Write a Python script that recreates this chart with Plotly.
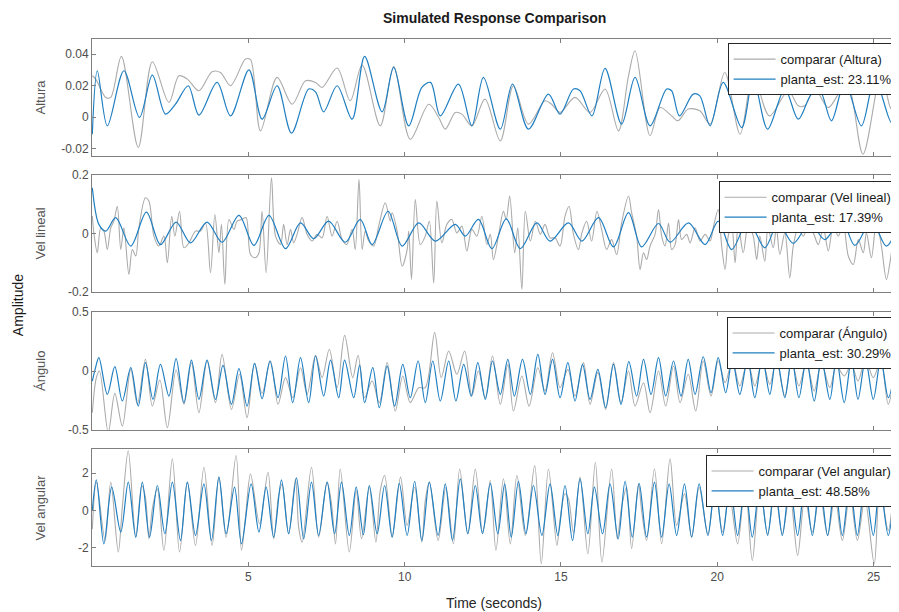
import plotly.graph_objects as go

# ---------------- data (time [s], value) ----------------
TIME_TICKS = [5, 10, 15, 20, 25]
TIME_RANGE = [0.0, 25.78]

PANEL_NAMES = ["Altura", "Vel lineal", "Ángulo", "Vel angular"]
FIT_LABELS = ["23.11%", "17.39%", "30.29%", "48.58%"]

ALT_TICKS = [-0.02, 0, 0.02, 0.04]
ALT_TICKTEXT = ["-0.02", "0", "0.02", "0.04"]
LIN_TICKS = [-0.2, 0, 0.2]
LIN_TICKTEXT = ["-0.2", "0", "0.2"]
ANG_TICKS = [-0.5, 0, 0.5]
ANG_TICKTEXT = ["-0.5", "0", "0.5"]
VEL_TICKS = [-2, 0, 2]
VEL_TICKTEXT = ["-2", "0", "2"]

ALT_EST = [(0.01,-0.0108),(0.17,0.0294),(0.49,-0.0055),(1.02,0.0294),(1.52,-0.0002),(1.93,0.0266),(2.35,0.0019),(2.67,0.0082),(3.08,0.0199),(3.42,0.0013),(4.00,0.0220),(4.43,0.0008),(5.02,0.0300),(5.44,-0.0013),(5.92,0.0199),(6.38,-0.0101),(6.93,0.0178),(7.15,0.0160),(7.41,0.0034),(7.84,0.0199),(8.32,-0.0013),(8.72,0.0385),(9.28,0.0034),(9.65,0.0315),(10.13,-0.0055),(10.55,0.0188),(10.83,0.0220),(11.14,0.0008),(11.72,0.0209),(12.15,-0.0055),(12.52,0.0252),(13.06,-0.0076),(13.45,0.0209),(13.96,-0.0076),(14.60,0.0146),(14.97,0.0019),(15.40,0.0178),(15.61,0.0167),(15.99,0.0008),(16.41,0.0309),(16.94,-0.0044),(17.37,0.0252),(17.85,-0.0055),(18.38,0.0178),(18.54,0.0167),(18.79,0.0008),(19.23,0.0146),(19.44,0.0135),(19.77,-0.0055),(20.19,0.0220),(20.78,-0.0066),(21.15,0.0241),(21.61,-0.0076),(22.16,0.0178),(22.59,-0.0013),(23.01,0.0146),(23.28,0.0167),(23.65,-0.0023),(24.08,0.0220),(24.61,-0.0055),(25.04,0.0241),(25.57,-0.0034),(25.78,0.0100)]

ALT_CMP = [(0.01,0.0262),(0.12,0.0241),(0.44,0.0125),(0.60,0.0125),(0.94,0.0385),(1.48,-0.0192),(1.93,0.0351),(2.46,0.0093),(2.78,0.0262),(3.05,0.0241),(3.42,0.0167),(3.84,0.0288),(4.11,0.0283),(4.43,0.0199),(4.91,0.0368),(5.07,0.0364),(5.39,-0.0087),(5.92,0.0252),(6.40,0.0082),(6.83,0.0230),(7.15,0.0220),(7.36,0.0188),(7.84,0.0311),(8.26,0.0104),(8.64,0.0330),(9.22,-0.0055),(9.65,0.0321),(10.18,-0.0140),(10.77,0.0082),(11.09,-0.0002),(11.30,-0.0076),(11.62,0.0030),(11.83,0.0019),(12.15,-0.0055),(12.57,0.0114),(13.06,-0.0150),(13.48,0.0199),(13.96,-0.0044),(14.49,0.0104),(14.70,0.0082),(14.97,0.0030),(15.45,0.0125),(15.93,0.0030),(16.41,0.0178),(16.84,-0.0087),(17.16,0.0262),(17.37,0.0421),(17.85,-0.0118),(18.17,0.0061),(18.54,0.0008),(18.74,-0.0023),(19.07,0.0051),(19.44,0.0040),(19.77,-0.0044),(20.24,0.0283),(20.73,-0.0108),(21.15,0.0262),(21.67,0.0008),(22.27,0.0167),(22.59,0.0072),(22.80,0.0072),(23.12,0.0178),(23.55,0.0061),(23.98,0.0178),(24.19,0.0199),(24.66,-0.0235),(25.25,0.0280),(25.57,0.0051),(25.78,0.0072)]

LIN_EST = [(0.01,0.156),(0.22,0.031),(0.44,0.008),(0.76,0.054),(1.24,-0.043),(1.74,0.073),(2.19,-0.038),(2.69,0.039),(3.15,-0.032),(3.68,0.039),(4.16,-0.030),(4.70,0.062),(5.18,-0.041),(5.66,0.062),(6.19,-0.052),(6.67,0.036),(7.09,-0.018),(7.57,0.042),(8.10,-0.030),(8.58,0.048),(8.96,-0.038),(9.47,0.076),(9.92,-0.043),(10.45,0.036),(10.98,-0.026),(11.62,0.031),(11.94,-0.009),(12.36,0.048),(12.79,-0.052),(13.25,0.050),(13.70,-0.052),(14.23,0.036),(14.65,-0.026),(15.24,0.036),(15.67,-0.026),(16.20,0.054),(16.68,-0.046),(17.16,0.071),(17.58,-0.046),(18.12,0.034),(18.49,-0.030),(19.08,0.036),(19.61,-0.038),(20.03,0.042),(20.46,-0.055),(20.99,0.042),(21.52,-0.049),(21.95,0.036),(22.43,-0.034),(22.96,0.036),(23.44,-0.021),(23.97,0.048),(24.40,-0.041),(24.93,0.042),(25.41,-0.043),(25.78,0.027)]

LIN_CMP = [(0.01,0.06),(0.06,0.002),(0.17,-0.066),(0.28,0.019),(0.38,0.008),(0.49,-0.055),(0.60,0.019),(0.70,0.042),(0.81,0.093),(0.92,-0.055),(1.02,0.019),(1.18,-0.140),(1.29,-0.055),(1.40,-0.077),(1.50,0.019),(1.71,0.122),(1.82,0.111),(1.98,-0.009),(2.14,-0.043),(2.30,-0.009),(2.41,-0.100),(2.55,0.059),(2.65,-0.009),(2.80,0.076),(2.94,-0.049),(3.10,-0.032),(3.31,0.008),(3.47,0.008),(3.63,0.036),(3.79,-0.134),(3.93,0.065),(4.06,-0.066),(4.14,0.031),(4.25,-0.174),(4.38,0.048),(4.54,0.014),(4.64,0.042),(4.80,0.048),(4.93,0.054),(5.07,-0.072),(5.23,-0.083),(5.34,-0.066),(5.44,0.076),(5.57,-0.134),(5.74,0.190),(5.87,-0.009),(6.03,-0.038),(6.13,0.031),(6.24,-0.038),(6.35,0.014),(6.45,-0.032),(6.56,-0.003),(6.72,0.054),(6.88,-0.003),(7.04,-0.026),(7.20,-0.003),(7.36,-0.015),(7.52,0.059),(7.68,-0.009),(7.84,0.042),(8.00,-0.021),(8.15,-0.038),(8.32,0.014),(8.42,-0.055),(8.54,0.185),(8.64,-0.055),(8.74,0.008),(8.85,-0.026),(9.01,-0.043),(9.17,0.025),(9.38,0.105),(9.54,0.042),(9.60,0.071),(9.76,0.008),(9.92,-0.112),(10.08,-0.055),(10.13,0.008),(10.22,-0.157),(10.34,0.116),(10.50,-0.038),(10.66,-0.009),(10.79,0.042),(10.93,-0.169),(11.03,0.111),(11.19,-0.032),(11.35,0.031),(11.51,0.048),(11.67,0.002),(11.83,0.025),(11.99,-0.060),(12.15,0.014),(12.31,-0.009),(12.47,0.059),(12.63,-0.038),(12.74,-0.003),(12.84,-0.089),(13.00,-0.009),(13.16,0.076),(13.25,0.048),(13.36,0.128),(13.52,-0.066),(13.62,0.019),(13.75,-0.191),(13.86,0.076),(14.02,-0.026),(14.18,0.042),(14.34,-0.003),(14.49,0.031),(14.65,-0.015),(14.81,-0.015),(14.97,-0.043),(15.13,0.059),(15.26,0.093),(15.40,-0.003),(15.56,-0.055),(15.67,0.002),(15.82,0.042),(15.98,-0.026),(16.15,0.076),(16.30,0.014),(16.46,-0.055),(16.62,-0.021),(16.78,-0.072),(16.94,0.036),(17.16,0.128),(17.26,0.071),(17.42,-0.009),(17.53,-0.123),(17.64,-0.066),(17.74,-0.089),(17.85,-0.043),(18.01,-0.003),(18.12,0.082),(18.22,-0.009),(18.33,-0.043),(18.44,0.036),(18.54,-0.055),(18.65,-0.038),(18.76,0.048),(18.86,-0.021),(19.02,-0.003),(19.13,-0.032),(19.29,0.019),(19.45,-0.026),(19.61,-0.003),(19.77,-0.026),(19.88,0.025),(20.03,0.082),(20.14,-0.043),(20.25,-0.123),(20.35,-0.009),(20.46,0.031),(20.57,-0.100),(20.67,0.031),(20.83,-0.066),(20.99,0.031),(21.15,-0.009),(21.26,-0.089),(21.36,-0.009),(21.52,-0.095),(21.62,0.019),(21.79,-0.049),(21.89,0.019),(22.00,-0.072),(22.16,0.002),(22.32,-0.152),(22.43,-0.043),(22.59,0.019),(22.75,-0.009),(22.91,0.025),(23.07,0.002),(23.23,-0.038),(23.39,0.019),(23.55,-0.060),(23.71,0.025),(23.87,-0.009),(24.03,0.031),(24.19,-0.077),(24.35,-0.106),(24.51,-0.021),(24.67,-0.066),(24.77,0.002),(24.93,-0.083),(25.09,0.042),(25.25,-0.043),(25.41,-0.157),(25.57,-0.066),(25.68,0.014),(25.78,0.048)]

ANG_EST = [(0.01,-0.085),(0.10,0.014),(0.22,0.113),(0.49,-0.198),(0.73,0.037),(0.97,-0.254),(1.24,0.028),(1.48,-0.297),(1.71,0.071),(1.95,-0.240),(2.19,0.056),(2.46,-0.212),(2.69,0.105),(2.94,-0.268),(3.18,0.093),(3.42,-0.240),(3.68,0.093),(3.95,-0.240),(4.19,0.048),(4.46,-0.282),(4.70,0.020),(4.96,-0.297),(5.20,0.065),(5.44,-0.234),(5.69,0.085),(5.95,-0.226),(6.19,0.127),(6.42,-0.268),(6.67,0.113),(6.93,-0.268),(7.15,0.127),(7.41,-0.212),(7.63,0.093),(7.89,-0.226),(8.08,0.093),(8.37,-0.226),(8.56,0.050),(8.72,-0.268),(8.98,0.028),(9.19,-0.311),(9.44,0.042),(9.68,-0.297),(9.94,0.056),(10.18,-0.226),(10.43,0.085),(10.66,-0.268),(10.90,0.085),(11.14,-0.254),(11.41,0.085),(11.64,-0.254),(11.89,0.056),(12.13,-0.212),(12.34,0.071),(12.58,-0.240),(12.81,0.085),(13.06,-0.198),(13.30,0.099),(13.51,-0.212),(13.77,0.099),(14.02,-0.198),(14.26,0.141),(14.49,-0.198),(14.73,0.099),(14.97,-0.226),(15.22,0.071),(15.45,-0.254),(15.69,0.056),(15.93,-0.240),(16.18,0.014),(16.43,-0.311),(16.68,0.056),(16.92,-0.282),(17.17,0.080),(17.42,-0.212),(17.64,0.099),(17.88,-0.198),(18.12,0.113),(18.35,-0.212),(18.60,0.085),(18.84,-0.212),(19.07,0.099),(19.29,-0.198),(19.55,0.121),(19.80,-0.184),(20.03,0.113),(20.27,-0.184),(20.48,0.099),(20.72,-0.198),(20.97,0.099),(21.20,-0.226),(21.44,0.113),(21.68,-0.198),(21.89,0.127),(22.16,-0.226),(22.38,0.113),(22.61,-0.226),(22.85,0.099),(23.10,-0.254),(23.33,0.099),(23.60,-0.240),(23.81,0.105),(24.06,-0.268),(24.29,0.099),(24.50,-0.240),(24.74,0.099),(24.99,-0.240),(25.23,0.099),(25.47,-0.226),(25.73,0.099)]

ANG_CMP = [(0.01,-0.353),(0.14,-0.056),(0.24,0.0),(0.52,-0.52),(0.73,-0.189),(0.97,-0.466),(1.24,0.014),(1.45,-0.282),(1.71,0.099),(1.93,-0.297),(2.17,-0.076),(2.41,-0.480),(2.69,0.008),(2.94,-0.282),(3.18,0.071),(3.42,-0.353),(3.68,0.085),(3.95,-0.268),(4.16,0.141),(4.46,-0.325),(4.72,-0.028),(4.96,-0.395),(5.20,0.065),(5.44,-0.189),(5.71,0.085),(5.95,-0.282),(6.19,-0.056),(6.42,-0.226),(6.67,0.028),(6.88,-0.198),(7.15,0.133),(7.36,-0.056),(7.59,0.184),(7.84,-0.141),(8.08,0.302),(8.34,-0.056),(8.51,0.133),(8.72,-0.226),(8.96,-0.085),(9.19,-0.268),(9.44,0.071),(9.70,-0.339),(9.94,-0.042),(10.18,-0.268),(10.45,-0.141),(10.66,-0.141),(10.96,0.325),(11.17,-0.056),(11.41,0.169),(11.67,-0.028),(11.92,0.169),(12.15,-0.212),(12.36,0.0),(12.58,-0.226),(12.81,0.127),(13.06,-0.282),(13.30,0.056),(13.48,-0.339),(13.75,-0.042),(13.98,-0.297),(14.26,0.028),(14.49,-0.169),(14.73,0.155),(14.97,-0.141),(15.22,0.014),(15.45,-0.212),(15.72,0.071),(15.93,-0.282),(16.18,-0.014),(16.43,-0.325),(16.68,0.071),(16.92,-0.268),(17.16,0.0),(17.37,-0.297),(17.64,-0.099),(17.85,-0.353),(18.12,0.0),(18.35,-0.297),(18.60,0.042),(18.81,-0.268),(19.07,-0.028),(19.31,-0.339),(19.55,0.085),(19.80,-0.212),(20.03,0.085),(20.25,-0.099),(20.48,0.085),(20.72,-0.127),(20.97,0.085),(21.20,-0.127),(21.44,0.085),(21.68,-0.113),(21.89,0.085),(22.16,-0.212),(22.38,0.085),(22.61,-0.127),(22.85,0.071),(23.10,-0.169),(23.33,0.071),(23.60,-0.141),(23.81,0.042),(24.06,-0.042),(24.29,0.056),(24.50,-0.085),(24.74,0.099),(24.99,-0.056),(25.23,0.085),(25.47,-0.282),(25.73,0.014),(25.78,-0.071)]

VEL_EST = [(0.01,0.0),(0.14,1.64),(0.38,-1.79),(0.63,1.25),(0.92,-1.16),(1.16,1.52),(1.40,-1.43),(1.61,1.52),(1.84,-1.43),(2.09,1.34),(2.33,-1.25),(2.57,1.52),(2.83,-1.61),(3.05,1.52),(3.31,-1.34),(3.58,1.43),(3.82,-1.61),(4.06,1.79),(4.29,-1.25),(4.56,1.25),(4.78,-1.79),(5.09,1.43),(5.34,-1.16),(5.57,1.25),(5.81,-1.43),(6.06,1.64),(6.29,-1.25),(6.54,1.75),(6.77,-1.52),(7.02,1.52),(7.25,-1.34),(7.52,1.52),(7.76,-1.25),(7.98,1.52),(8.23,-1.34),(8.45,1.25),(8.68,-1.30),(8.87,1.34),(9.12,-1.25),(9.36,1.34),(9.60,-1.43),(9.83,1.46),(10.08,-1.34),(10.32,1.57),(10.55,-1.61),(10.79,1.52),(11.07,-1.34),(11.30,1.43),(11.53,-1.61),(11.78,1.70),(12.02,-1.25),(12.26,1.34),(12.49,-1.25),(12.74,1.46),(12.98,-1.25),(13.20,1.43),(13.41,-1.43),(13.64,1.57),(13.88,-1.25),(14.12,1.34),(14.39,-1.34),(14.65,1.43),(14.90,-1.34),(15.13,1.34),(15.37,-1.61),(15.61,1.70),(15.86,-1.25),(16.07,1.25),(16.33,-1.25),(16.57,1.43),(16.83,-1.52),(17.05,1.57),(17.28,-1.43),(17.50,1.46),(17.74,-1.43),(17.99,1.52),(18.22,-1.43),(18.46,1.43),(18.70,-1.34),(18.95,1.43),(19.18,-1.43),(19.42,1.43),(19.70,-1.34),(19.93,1.43),(20.17,-1.34),(20.41,1.43),(20.65,-1.34),(20.89,1.43),(21.12,-1.43),(21.36,1.43),(21.61,-1.34),(21.84,1.43),(22.08,-1.34),(22.32,1.43),(22.57,-1.34),(22.80,1.43),(23.04,-1.34),(23.28,1.43),(23.53,-1.34),(23.76,1.43),(24.00,-1.34),(24.24,1.43),(24.48,-1.34),(24.72,1.43),(24.99,-1.34),(25.20,1.43),(25.47,-1.34),(25.73,1.46),(25.78,1.20)]

VEL_CMP = [(0.01,-1.0),(0.14,1.52),(0.42,-1.61),(0.60,1.52),(0.84,-2.23),(0.97,0.18),(1.16,3.21),(1.40,-1.43),(1.59,1.34),(1.71,0.71),(1.82,-1.52),(1.93,0.09),(2.09,1.16),(2.30,-2.14),(2.57,2.77),(2.80,-2.23),(3.05,1.52),(3.31,-1.88),(3.58,2.32),(3.84,-1.88),(4.06,1.79),(4.29,-1.43),(4.61,2.95),(4.78,-2.14),(4.91,-0.36),(5.07,1.96),(5.36,-0.71),(5.63,2.05),(5.81,-1.52),(5.97,0.80),(6.08,1.43),(6.29,-1.25),(6.51,1.70),(6.61,-0.89),(6.72,-1.70),(7.02,2.32),(7.25,-1.43),(7.52,1.52),(7.66,0.36),(7.79,-1.79),(7.94,2.23),(8.23,-2.23),(8.45,1.07),(8.62,-1.52),(8.87,1.25),(9.08,-1.70),(9.22,1.07),(9.36,1.88),(9.60,-1.43),(9.68,-0.63),(9.87,1.79),(10.08,-0.80),(10.32,1.25),(10.55,-1.70),(10.66,0.54),(10.79,1.52),(11.07,-1.61),(11.32,1.25),(11.56,-1.79),(11.76,2.23),(12.02,-1.25),(12.26,2.23),(12.49,-1.16),(12.58,-0.54),(12.74,1.61),(12.92,-2.14),(13.16,1.70),(13.38,-1.79),(13.59,1.88),(13.86,-1.34),(14.16,2.41),(14.37,-2.86),(14.60,2.23),(14.87,-1.88),(14.97,-0.50),(15.13,0.90),(15.24,0.63),(15.40,-1.20),(15.61,1.79),(15.86,-2.32),(16.10,2.59),(16.31,-2.77),(16.62,2.23),(16.80,-1.52),(16.94,0.18),(17.10,1.25),(17.26,-2.05),(17.48,1.43),(17.58,0.0),(17.74,-1.61),(17.99,2.23),(18.22,-1.79),(18.49,2.77),(18.70,-0.80),(18.95,0.89),(19.18,-1.43),(19.42,1.25),(19.70,-1.25),(19.93,1.25),(20.17,-1.16),(20.38,0.89),(20.65,-1.79),(20.89,1.43),(21.12,-2.68),(21.36,1.25),(21.61,-1.25),(21.84,1.07),(22.08,-1.25),(22.32,0.89),(22.57,-2.41),(22.80,0.71),(23.04,-1.16),(23.28,0.89),(23.53,-1.34),(23.76,0.71),(24.00,-1.61),(24.24,0.89),(24.48,-1.61),(24.72,0.63),(25.02,-2.86),(25.20,1.25),(25.47,-1.07),(25.68,1.25),(25.78,-0.71)]

# ---------------- styling ----------------
FONT = "Arial, 'Liberation Sans', Helvetica, sans-serif"
GRAY = "#ababab"
BLUE = "#1f7fc1"
AXIS_COL = "#7f7f7f"
TICK_COL = "#4d4d4d"

# page body has an 8 px margin; plot area ends up at x 92..898, y 39..566 (527 px tall)
DOMAINS = [[0.778, 1.0], [0.520, 0.742], [0.258, 0.482], [0.0, 0.222]]
LEGEND_Y = [0.992, 0.730, 0.4725, 0.2106]

panels = [
    (ALT_CMP, ALT_EST, [-0.0246, 0.0495], ALT_TICKS, ALT_TICKTEXT),
    (LIN_CMP, LIN_EST, [-0.2, 0.2], LIN_TICKS, LIN_TICKTEXT),
    (ANG_CMP, ANG_EST, [-0.5, 0.5], ANG_TICKS, ANG_TICKTEXT),
    (VEL_CMP, VEL_EST, [-2.98, 3.30], VEL_TICKS, VEL_TICKTEXT),
]

fig = go.Figure()
layout = dict(
    width=891, height=604,
    margin=dict(l=84, r=1, t=31, b=46),
    paper_bgcolor="white", plot_bgcolor="white",
    font=dict(family=FONT, size=12, color="#262626"),
    showlegend=True,
)

annotations = []
for i, (cmp_data, est_data, yr, tv, tt) in enumerate(panels):
    k = i + 1
    sfx = "" if k == 1 else str(k)
    leg = "legend" if k == 1 else f"legend{k}"
    tc, vc = zip(*cmp_data)
    te, ve = zip(*est_data)
    fig.add_trace(go.Scatter(
        x=list(tc), y=list(vc), mode="lines",
        line=dict(color=GRAY, width=1.1, shape="spline", smoothing=0.9),
        name=f"comparar ({PANEL_NAMES[i]})",
        xaxis=f"x{sfx}", yaxis=f"y{sfx}", legend=leg, hoverinfo="skip"))
    fig.add_trace(go.Scatter(
        x=list(te), y=list(ve), mode="lines",
        line=dict(color=BLUE, width=1.2, shape="spline", smoothing=0.9),
        name=f"planta_est: {FIT_LABELS[i]}",
        xaxis=f"x{sfx}", yaxis=f"y{sfx}", legend=leg, hoverinfo="skip"))

    layout[f"xaxis{sfx}"] = dict(
        domain=[0, 1], range=TIME_RANGE, anchor=f"y{sfx}",
        tickvals=TIME_TICKS, ticks="inside", ticklen=4, tickcolor=AXIS_COL,
        showline=True, linecolor=AXIS_COL, linewidth=1, mirror="ticks",
        showgrid=False, zeroline=False, showticklabels=(k == 4),
        tickfont=dict(size=12, color=TICK_COL),
    )
    layout[f"yaxis{sfx}"] = dict(
        domain=DOMAINS[i], range=yr, anchor=f"x{sfx}",
        tickvals=tv, ticktext=tt, ticks="inside", ticklen=4, tickcolor=AXIS_COL,
        showline=True, linecolor=AXIS_COL, linewidth=1, mirror="ticks",
        showgrid=False, zeroline=False,
        tickfont=dict(size=12, color=TICK_COL),
    )
    layout[leg] = dict(
        x=0.9995, xanchor="right", y=LEGEND_Y[i], yanchor="top",
        bgcolor="white", bordercolor="#262626", borderwidth=1,
        font=dict(size=13, color="#1a1a1a"), tracegroupgap=0,
        itemwidth=42,
    )
    annotations.append(dict(
        text=PANEL_NAMES[i], xref="paper", yref="paper",
        x=-0.0645, y=sum(DOMAINS[i]) / 2, textangle=-90, showarrow=False,
        xanchor="center", yanchor="middle",
        font=dict(size=13, color="#555555")))

annotations += [
    dict(text="<b>Simulated Response Comparison</b>", xref="paper", yref="paper",
         x=0.4988, y=1.0398, showarrow=False, xanchor="center", yanchor="middle",
         font=dict(size=14, color="#1a1a1a")),
    dict(text="Amplitude", xref="paper", yref="paper", x=-0.0918, y=0.495,
         textangle=-90, showarrow=False, xanchor="center", yanchor="middle",
         font=dict(size=14, color="#1a1a1a")),
    dict(text="Time (seconds)", xref="paper", yref="paper", x=0.4988, y=-0.0702,
         showarrow=False, xanchor="center", yanchor="middle",
         font=dict(size=14, color="#262626")),
]
layout["annotations"] = annotations
fig.update_layout(**layout)
fig.write_html("out.html")
